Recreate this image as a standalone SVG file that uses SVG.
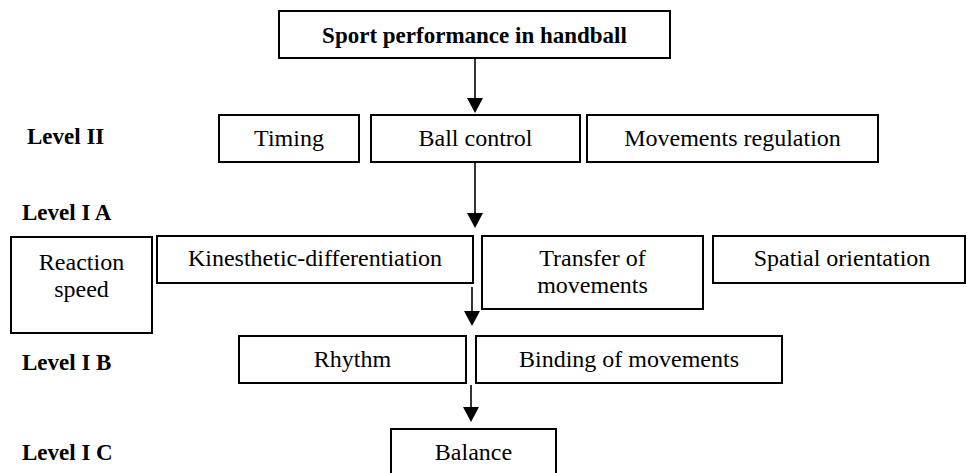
<svg xmlns="http://www.w3.org/2000/svg" width="967" height="473" viewBox="0 0 967 473">
<style>
.box{fill:#fff;stroke:#000;stroke-width:2}
.t{font-family:'Liberation Serif',Tinos,'Times New Roman','Nimbus Roman','DejaVu Serif',serif;font-size:24px;fill:#000;text-anchor:middle}
.b{font-family:'Liberation Serif',Tinos,'Times New Roman','Nimbus Roman','DejaVu Serif',serif;font-size:23px;font-weight:bold;fill:#000}
.ln{stroke:#000;stroke-width:1.6}
.hd{fill:#000}
</style>
<rect width="967" height="473" fill="#fff"/>
<g id="labels">
<text class="b" x="27" y="144">Level II</text>
<text class="b" x="22" y="220">Level I A</text>
<text class="b" x="22" y="370">Level I B</text>
<text class="b" x="22" y="460">Level I C</text>
</g>
<g id="connectors">
<line class="ln" x1="475" y1="58" x2="475" y2="100"/>
<path class="hd" d="M467,98 L483,98 L475,113 Z"/>
<line class="ln" x1="475" y1="163" x2="475" y2="215"/>
<path class="hd" d="M467,213 L483,213 L475,228 Z"/>
<line class="ln" x1="472" y1="287" x2="472" y2="313"/>
<path class="hd" d="M464,311 L480,311 L472,326 Z"/>
<line class="ln" x1="471" y1="385" x2="471" y2="409"/>
<path class="hd" d="M463,407 L479,407 L471,422 Z"/>
</g>
<g id="sport">
<rect class="box" x="279" y="11" width="391" height="47"/>
<text class="b" x="474.5" y="43" text-anchor="middle" font-size="25">Sport performance in handball</text>
</g>
<g id="timing">
<rect class="box" x="219" y="115" width="140" height="47"/>
<text class="t" x="289" y="146">Timing</text>
</g>
<g id="ballcontrol">
<rect class="box" x="371" y="115" width="209" height="47"/>
<text class="t" x="475.5" y="146">Ball control</text>
</g>
<g id="movreg">
<rect class="box" x="587" y="115" width="291" height="47"/>
<text class="t" x="732.5" y="146">Movements regulation</text>
</g>
<g id="reaction">
<rect class="box" x="11" y="237" width="141" height="96"/>
<text class="t" x="81.5" y="270">Reaction</text>
<text class="t" x="81.5" y="297">speed</text>
</g>
<g id="kinesthetic">
<rect class="box" x="157" y="236" width="316" height="47"/>
<text class="t" x="315" y="266">Kinesthetic-differentiation</text>
</g>
<g id="transfer">
<rect class="box" x="482" y="236" width="221" height="73"/>
<text class="t" x="592.5" y="266">Transfer of</text>
<text class="t" x="592.5" y="293">movements</text>
</g>
<g id="spatial">
<rect class="box" x="713" y="236" width="252" height="47"/>
<text class="t" x="842" y="266">Spatial orientation</text>
</g>
<g id="rhythm">
<rect class="box" x="239" y="336" width="227" height="47"/>
<text class="t" x="352.5" y="367">Rhythm</text>
</g>
<g id="binding">
<rect class="box" x="476" y="336" width="306" height="47"/>
<text class="t" x="629" y="367">Binding of movements</text>
</g>
<g id="balance">
<rect class="box" x="391" y="429" width="165" height="50"/>
<text class="t" x="473.5" y="460">Balance</text>
</g>
</svg>
